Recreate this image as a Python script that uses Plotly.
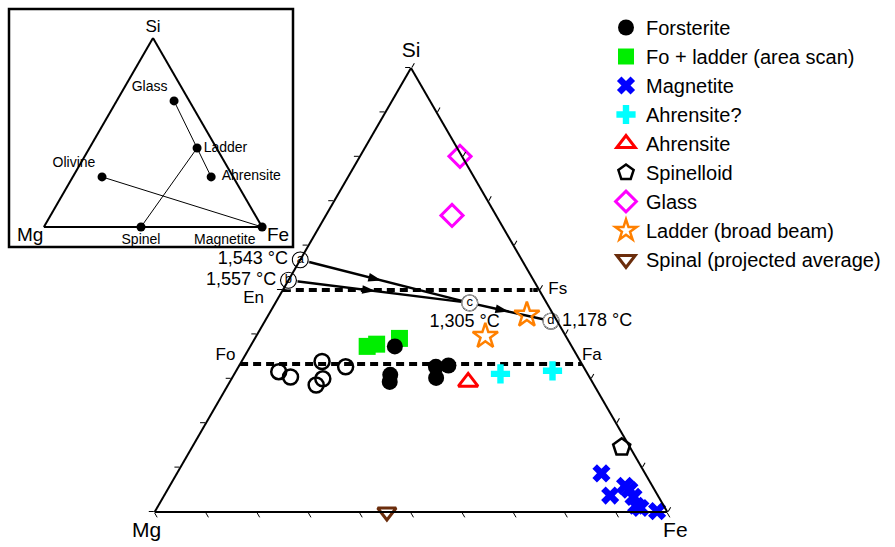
import math
import plotly.graph_objects as go

W, H = 895, 547
FONT = "Liberation Sans, Arial, Helvetica, sans-serif"
NB = "\u00a0"

# ---------------- data: cation fractions (Si, Mg, Fe) ----------------
fo_filled_si = [0.373, 0.309, 0.293, 0.327, 0.330, 0.302]
fo_filled_fe = [0.282, 0.305, 0.312, 0.385, 0.408, 0.398]
fo_filled_mg = [0.345, 0.386, 0.395, 0.288, 0.262, 0.300]

fo_open_si = [0.316, 0.304, 0.339, 0.300, 0.286, 0.327]
fo_open_fe = [0.084, 0.113, 0.157, 0.178, 0.172, 0.209]
fo_open_mg = [0.600, 0.583, 0.504, 0.522, 0.542, 0.464]

fo_ladder_si = [0.373, 0.378, 0.391]
fo_ladder_fe = [0.228, 0.244, 0.282]
fo_ladder_mg = [0.399, 0.378, 0.327]

magnetite_si = [0.087, 0.037, 0.059, 0.050, 0.034, 0.014, 0.009, 0.002]
magnetite_fe = [0.828, 0.870, 0.888, 0.901, 0.917, 0.932, 0.943, 0.979]
magnetite_mg = [0.085, 0.093, 0.053, 0.049, 0.049, 0.054, 0.048, 0.019]

ahrensite_q_si = [0.311, 0.318]
ahrensite_q_fe = [0.519, 0.617]
ahrensite_q_mg = [0.170, 0.065]

ahrensite_si = [0.293]
ahrensite_fe = [0.465]
ahrensite_mg = [0.242]

spinelloid_si = [0.146]
spinelloid_fe = [0.838]
spinelloid_mg = [0.016]

glass_si = [0.801, 0.668]
glass_fe = [0.195, 0.246]
glass_mg = [0.004, 0.086]

ladder_si = [0.444, 0.396]
ladder_fe = [0.504, 0.447]
ladder_mg = [0.052, 0.157]

spinel_si = [0.0]
spinel_fe = [0.453]
spinel_mg = [0.547]

# liquidus path points a-d
path_labels = ["a", "b", "c", "d"]
path_temps = ["1,543 °C", "1,557 °C", "1,305 °C", "1,178 °C"]
path_si = [0.568, 0.522, 0.471, 0.430]
path_mg = [0.432, 0.478, 0.150, 0.012]
path_fe = [0.000, 0.000, 0.379, 0.558]
path_segments = [(0, 2), (1, 2), (2, 3)]   # a->c, b->c, c->d

# end-member joins (pyroxene En-Fs, olivine Fo-Fa)
join_names = [("En", "Fs"), ("Fo", "Fa")]
join_si = [(0.5, 0.5), (1 / 3, 1 / 3)]
join_mg = [(0.5, 0.0), (2 / 3, 0.0)]
join_fe = [(0.0, 0.5), (0.0, 2 / 3)]

# inset phases
inset_names = ["Glass", "Ladder", "Ahrensite", "Olivine", "Spinel", "Magnetite"]
inset_si = [0.667, 0.418, 0.265, 0.265, 0.0, 0.0]
inset_fe = [0.263, 0.493, 0.634, 0.134, 0.445, 1.0]
inset_mg = [0.070, 0.089, 0.101, 0.601, 0.555, 0.0]
inset_tie_lines = [("Glass", "Ahrensite"), ("Spinel", "Ladder"), ("Olivine", "Magnetite")]

# ---------------- figure ----------------
fig = go.Figure()


def add_points(name, si, mg, fe, symbol, color, size, lw=0, rank=None,
               showlegend=True):
    fig.add_trace(go.Scatterternary(
        a=si, b=mg, c=fe, mode="markers", name=name,
        showlegend=showlegend, legendrank=rank, cliponaxis=False,
        marker=dict(symbol=symbol, color=color, size=size,
                    line=dict(width=lw, color=color)),
    ))


# dashed joins
for s, m, f in zip(join_si, join_mg, join_fe):
    fig.add_trace(go.Scatterternary(
        a=list(s), b=list(m), c=list(f), mode="lines", showlegend=False,
        cliponaxis=False, hoverinfo="skip",
        line=dict(color="black", width=4, dash="8px,5px"),
    ))

# join end labels
end_text = {"En": "En" + NB * 4, "Fs": "Fs", "Fo": "Fo" + NB, "Fa": "Fa"}
end_pos = {"En": "bottom left", "Fs": "middle right",
           "Fo": "top left", "Fa": "top right"}
end_size = {"En": 0, "Fs": 13, "Fo": 0, "Fa": 0}
for (n0, n1), s, m, f in zip(join_names, join_si, join_mg, join_fe):
    fig.add_trace(go.Scatterternary(
        a=list(s), b=list(m), c=list(f), mode="markers+text",
        text=[end_text[n0], end_text[n1]],
        textposition=[end_pos[n0], end_pos[n1]],
        textfont=dict(size=17, color="black", family=FONT),
        marker=dict(size=[end_size[n0], end_size[n1]], color="rgba(0,0,0,0)"),
        showlegend=False, cliponaxis=False, hoverinfo="skip",
    ))

# liquidus path lines with arrowheads
for i0, i1 in path_segments:
    fig.add_trace(go.Scatterternary(
        a=[path_si[i0], path_si[i1]], b=[path_mg[i0], path_mg[i1]],
        c=[path_fe[i0], path_fe[i1]], mode="lines", showlegend=False,
        cliponaxis=False, hoverinfo="skip",
        line=dict(color="black", width=2.5),
    ))
    frac = 0.48
    hs = path_si[i0] + frac * (path_si[i1] - path_si[i0])
    hm = path_mg[i0] + frac * (path_mg[i1] - path_mg[i0])
    hf = path_fe[i0] + frac * (path_fe[i1] - path_fe[i0])
    dx = (path_fe[i1] - path_fe[i0]) + (path_si[i1] - path_si[i0]) / 2
    dy = (path_si[i1] - path_si[i0]) * math.sqrt(3) / 2
    ang = math.degrees(math.atan2(dx, dy))
    fig.add_trace(go.Scatterternary(
        a=[hs], b=[hm], c=[hf], mode="markers", showlegend=False,
        cliponaxis=False, hoverinfo="skip",
        marker=dict(symbol="arrow", size=14, color="black", angle=ang,
                    line=dict(width=0)),
    ))

# data points
add_points("Forsterite", fo_open_si, fo_open_mg, fo_open_fe,
           "circle-open", "black", 15, lw=2.5, showlegend=False)
add_points("Fo + ladder (area scan)", fo_ladder_si, fo_ladder_mg, fo_ladder_fe,
           "square", "#00ee00", 17, rank=2)
add_points("Forsterite", fo_filled_si, fo_filled_mg, fo_filled_fe,
           "circle", "black", 16, rank=1)
add_points("Magnetite", magnetite_si, magnetite_mg, magnetite_fe,
           "x", "#0000ff", 16, rank=3)
add_points("Ahrensite?", ahrensite_q_si, ahrensite_q_mg, ahrensite_q_fe,
           "cross", "#00ffff", 16, rank=4)
add_points("Ahrensite", ahrensite_si, ahrensite_mg, ahrensite_fe,
           "triangle-up-open", "#ff0000", 17, lw=3, rank=5)
add_points("Spinelloid", spinelloid_si, spinelloid_mg, spinelloid_fe,
           "pentagon-open", "black", 18, lw=2.5, rank=6)
add_points("Glass", glass_si, glass_mg, glass_fe,
           "diamond-open", "#ff00ff", 17, lw=3, rank=7)
add_points("Ladder (broad beam)", ladder_si, ladder_mg, ladder_fe,
           "star-open", "#ff8000", 19, lw=2.5, rank=8)
add_points("Spinal (projected average)", spinel_si, spinel_mg, spinel_fe,
           "triangle-down-open", "#6b2d0c", 16, lw=3, rank=9)

# circled path letters
fig.add_trace(go.Scatterternary(
    a=path_si, b=path_mg, c=path_fe, mode="markers+text", text=path_labels,
    textposition="middle center", showlegend=False, cliponaxis=False,
    textfont=dict(size=13, color="black", family=FONT),
    marker=dict(symbol="circle", size=16, color="white",
                line=dict(color="black", width=1.2)),
))
# temperatures
fig.add_trace(go.Scatterternary(
    a=path_si, b=path_mg, c=path_fe, mode="markers+text",
    text=[path_temps[0], path_temps[1], path_temps[2] + NB * 2, path_temps[3]],
    textposition=["middle left", "middle left", "bottom center", "middle right"],
    showlegend=False, cliponaxis=False, hoverinfo="skip",
    textfont=dict(size=18, color="black", family=FONT),
    marker=dict(size=[18, 18, 16, 16], color="rgba(0,0,0,0)"),
))

# ---------------- inset ----------------
idx = {n: i for i, n in enumerate(inset_names)}
for n0, n1 in inset_tie_lines:
    i0, i1 = idx[n0], idx[n1]
    fig.add_trace(go.Scatterternary(
        a=[inset_si[i0], inset_si[i1]], b=[inset_mg[i0], inset_mg[i1]],
        c=[inset_fe[i0], inset_fe[i1]], mode="lines", subplot="ternary2",
        showlegend=False, cliponaxis=False, hoverinfo="skip",
        line=dict(color="black", width=1),
    ))
inset_text = [n if n != "Ahrensite" else NB + n for n in inset_names]
fig.add_trace(go.Scatterternary(
    a=inset_si, b=inset_mg, c=inset_fe, mode="markers+text", text=inset_text,
    textposition=["top left", "middle right", "middle right", "top left",
                  "bottom center", "bottom left"],
    subplot="ternary2", showlegend=False, cliponaxis=False,
    textfont=dict(size=14, color="black", family=FONT),
    marker=dict(size=9, color="black"),
))


def domain_from_px(xc, ytop, ybottom):
    h = ybottom - ytop
    w = h * 2 / math.sqrt(3)
    return dict(x=[(xc - w / 2) / W, (xc + w / 2) / W],
                y=[1 - ybottom / H, 1 - ytop / H])


def tern_axis(title, size, ticks):
    return dict(
        title=dict(text=title, font=dict(size=size, color="black", family=FONT)),
        showticklabels=False, showgrid=False,
        ticks="outside" if ticks else "", ticklen=5, tickwidth=1,
        tickcolor="black", dtick=0.1, tick0=0,
        linecolor="black", linewidth=2, min=0,
    )


fig.update_layout(
    width=W, height=H,
    margin=dict(l=0, r=0, t=0, b=0),
    paper_bgcolor="white",
    font=dict(family=FONT, color="black"),
    ternary=dict(
        domain=domain_from_px(411, 68, 512), sum=1, bgcolor="white",
        aaxis=tern_axis("Si", 21, True),
        baxis=tern_axis("Mg", 21, True),
        caxis=tern_axis("Fe", 21, True),
    ),
    ternary2=dict(
        domain=domain_from_px(153, 38, 227), sum=1, bgcolor="white",
        aaxis=tern_axis("Si", 17, False),
        baxis=tern_axis("", 19, False),
        caxis=tern_axis("", 19, False),
    ),
    shapes=[dict(type="rect", xref="paper", yref="paper",
                 x0=9 / W, x1=293 / W, y0=1 - 247 / H, y1=1 - 9 / H,
                 line=dict(color="black", width=2.5), layer="below")],
    annotations=[
        dict(text="Mg", x=30 / W, y=1 - 235 / H, xref="paper", yref="paper",
             xanchor="center", yanchor="middle", showarrow=False,
             font=dict(size=19, family=FONT, color="black")),
        dict(text="Fe", x=278 / W, y=1 - 235 / H, xref="paper", yref="paper",
             xanchor="center", yanchor="middle", showarrow=False,
             font=dict(size=19, family=FONT, color="black")),
    ],
    legend=dict(x=606 / W, y=1 - 8 / H, xanchor="left", yanchor="top",
                font=dict(size=20, family=FONT, color="black"),
                bgcolor="rgba(0,0,0,0)", itemsizing="trace",
                tracegroupgap=0),
    showlegend=True,
)

fig.write_html("out.html", config={"displayModeBar": False},
               post_script="document.body.style.margin='0';")
